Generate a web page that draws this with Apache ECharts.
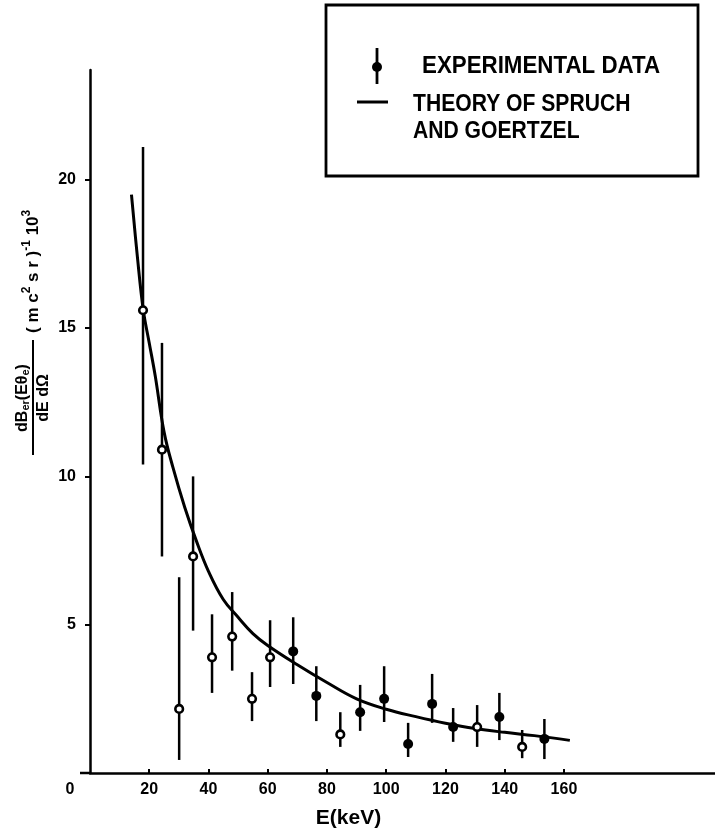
<!DOCTYPE html>
<html>
<head>
<meta charset="utf-8">
<script src="https://cdn.jsdelivr.net/npm/echarts@6/dist/echarts.min.js"></script>
<style>
  html, body { margin: 0; padding: 0; background: #fff; }
  #chart { width: 715px; height: 836px; }
</style>
</head>
<body>
<div id="chart"></div>
<script>
// ---- data ----
const energy   = [17.9, 24.3, 30.1, 34.8, 41.2, 48.0, 54.7, 60.8, 68.6, 76.4, 84.5, 91.2, 99.3, 107.4, 115.5, 122.6, 130.7, 138.2, 145.9, 153.4];
const value    = [15.6, 10.9, 2.16, 7.3, 3.9, 4.6, 2.5, 3.9, 4.1, 2.6, 1.3, 2.05, 2.5, 0.98, 2.33, 1.55, 1.55, 1.89, 0.88, 1.15];
const errHigh  = [21.1, 14.5, 6.6, 10.0, 5.35, 6.1, 3.4, 5.15, 5.25, 3.6, 2.05, 2.97, 3.6, 1.69, 3.34, 2.19, 2.29, 2.7, 1.45, 1.82];
const errLow   = [10.4, 7.3, 0.44, 4.8, 2.7, 3.45, 1.75, 2.9, 3.0, 1.75, 0.88, 1.42, 1.72, 0.54, 1.69, 1.05, 0.88, 1.11, 0.5, 0.47];

const theoryE  = [14, 16, 18, 20, 22, 25, 28, 32, 36, 40, 45, 50, 55, 60, 70, 80, 90, 100, 110, 120, 130, 140, 150, 162];
const theoryV  = [19.5, 17.4, 15.6, 14.5, 13.4, 11.5, 10.3, 8.95, 7.8, 6.8, 5.85, 5.25, 4.7, 4.3, 3.65, 3.05, 2.5, 2.15, 1.9, 1.68, 1.5, 1.37, 1.26, 1.1];

const xTicks = [20, 40, 60, 80, 100, 120, 140, 160];
const yTicks = [5, 10, 15, 20];

const legendData   = 'EXPERIMENTAL DATA';
const legendTheory = ['THEORY OF SPRUCH', 'AND GOERTZEL'];
const xName = 'E(keV)';

// ---- rendering ----
const FONT = '"Liberation Sans", Arial, sans-serif';
const HOLLOW = new Set([0, 1, 2, 3, 4, 5, 6, 7, 10, 16, 18]);

const chart = echarts.init(document.getElementById('chart'), null, { renderer: 'canvas' });

const expData = energy.map((e, i) => [e, value[i], errHigh[i], errLow[i]]);
const theoryData = theoryE.map((e, i) => [e, theoryV[i]]);

const option = {
  backgroundColor: '#fff',
  animation: false,
  grid: { left: 90, right: 0, top: 70, bottom: 63, containLabel: false },
  xAxis: {
    type: 'value', min: 0, max: 211, interval: 20,
    name: xName, nameLocation: 'middle', nameGap: 35,
    nameTextStyle: { fontFamily: FONT, fontWeight: 'bold', fontSize: 21, color: '#000', padding: [0, 108, 0, 0] },
    axisLine: { show: true, onZero: false, lineStyle: { color: '#000', width: 2.5 } },
    axisTick: { show: true, inside: true, length: 4, customValues: xTicks, lineStyle: { color: '#000', width: 2 } },
    axisLabel: {
      show: true, margin: 9, color: '#000', fontFamily: FONT, fontWeight: 'bold', fontSize: 16,
      customValues: [0].concat(xTicks),
      formatter: v => (v === 0 ? '{z|0}' : (xTicks.indexOf(v) >= 0 ? String(v) : '')),
      rich: { z: { fontFamily: FONT, fontWeight: 'bold', fontSize: 16, color: '#000', padding: [0, 40, 0, 0] } }
    },
    splitLine: { show: false }
  },
  yAxis: {
    type: 'value', min: 0, max: 23.7, interval: 5,
    axisLine: { show: true, onZero: false, lineStyle: { color: '#000', width: 2.5 } },
    axisTick: { show: true, length: 5, customValues: yTicks, lineStyle: { color: '#000', width: 2 } },
    axisLabel: {
      show: true, margin: 14, color: '#000', fontFamily: FONT, fontWeight: 'bold', fontSize: 16,
      customValues: yTicks,
      formatter: v => (yTicks.indexOf(v) >= 0 ? String(v) : '')
    },
    splitLine: { show: false }
  },
  series: [
    {
      name: 'THEORY OF SPRUCH AND GOERTZEL',
      type: 'line', data: theoryData, smooth: 0.4, symbol: 'none',
      lineStyle: { color: '#000', width: 3 }, z: 2
    },
    {
      name: 'EXPERIMENTAL DATA',
      type: 'custom', data: expData, z: 3,
      encode: { x: 0, y: [1, 2, 3] },
      renderItem: function (params, api) {
        const p = api.coord([api.value(0), api.value(1)]);
        const hi = api.coord([api.value(0), api.value(2)]);
        const lo = api.coord([api.value(0), api.value(3)]);
        const hollow = HOLLOW.has(params.dataIndex);
        return {
          type: 'group',
          children: [
            { type: 'line', shape: { x1: hi[0], y1: hi[1], x2: lo[0], y2: lo[1] }, style: { stroke: '#000', lineWidth: 2.5 } },
            { type: 'circle', shape: { cx: p[0], cy: p[1], r: hollow ? 3.8 : 5 },
              style: { fill: hollow ? '#fff' : '#000', stroke: '#000', lineWidth: hollow ? 2.6 : 0 } }
          ]
        };
      }
    }
  ],
  graphic: [
    // x axis stub left of the origin
    { type: 'line', shape: { x1: 80, y1: 773, x2: 90, y2: 773 }, style: { stroke: '#000', lineWidth: 2.5 }, z: 5 },
    // legend box
    { type: 'rect', shape: { x: 326, y: 5, width: 372, height: 171 }, style: { fill: '#fff', stroke: '#000', lineWidth: 2.8 }, z: 10 },
    { type: 'line', shape: { x1: 377, y1: 48, x2: 377, y2: 84 }, style: { stroke: '#000', lineWidth: 2.8 }, z: 11 },
    { type: 'circle', shape: { cx: 377, cy: 67, r: 5 }, style: { fill: '#000' }, z: 11 },
    { type: 'text', x: 422, y: 66, scaleX: 0.93, z: 11,
      style: { text: legendData, x: 0, y: 0, textAlign: 'left', textVerticalAlign: 'middle', fontFamily: FONT, fontWeight: 'bold', fontSize: 24, fill: '#000' } },
    { type: 'line', shape: { x1: 357, y1: 102, x2: 388, y2: 102 }, style: { stroke: '#000', lineWidth: 3 }, z: 11 },
    { type: 'text', x: 413, y: 104, scaleX: 0.88, z: 11,
      style: { text: legendTheory[0], x: 0, y: 0, textAlign: 'left', textVerticalAlign: 'middle', fontFamily: FONT, fontWeight: 'bold', fontSize: 24, fill: '#000' } },
    { type: 'text', x: 413, y: 131, scaleX: 0.88, z: 11,
      style: { text: legendTheory[1], x: 0, y: 0, textAlign: 'left', textVerticalAlign: 'middle', fontFamily: FONT, fontWeight: 'bold', fontSize: 24, fill: '#000' } },
    // y-axis title (rotated fraction)
    {
      type: 'group', x: 33, y: 455, rotation: Math.PI / 2, z: 11,
      children: [
        { type: 'line', shape: { x1: 0, y1: 0, x2: 115, y2: 0 }, style: { stroke: '#000', lineWidth: 2 } },
        { type: 'text', style: {
            x: 57, y: -2, textAlign: 'center', textVerticalAlign: 'bottom',
            text: '{b|dB}{s|er}{b|(E\u03b8}{s|e}{b|)}',
            rich: {
              b: { fontFamily: FONT, fontWeight: 'bold', fontSize: 16, fill: '#000', color: '#000' },
              s: { fontFamily: FONT, fontWeight: 'bold', fontSize: 11, fill: '#000', color: '#000', verticalAlign: 'bottom', padding: [6, 0, 0, 0] }
            } } },
        { type: 'text', style: {
            x: 57, y: 3, textAlign: 'center', textVerticalAlign: 'top',
            text: 'dE d\u03a9', fontFamily: FONT, fontWeight: 'bold', fontSize: 16, fill: '#000' } },
        { type: 'text', style: {
            x: 122, y: 0, textAlign: 'left', textVerticalAlign: 'middle',
            text: '{b|( m c}{p|2}{b| s r )}{p|-1}{b| 10}{p|3}',
            rich: {
              b: { fontFamily: FONT, fontWeight: 'bold', fontSize: 17, fill: '#000', color: '#000' },
              p: { fontFamily: FONT, fontWeight: 'bold', fontSize: 12, fill: '#000', color: '#000', padding: [0, 0, 12, 0] }
            } } }
      ]
    }
  ]
};

chart.setOption(option);
</script>
</body>
</html>
